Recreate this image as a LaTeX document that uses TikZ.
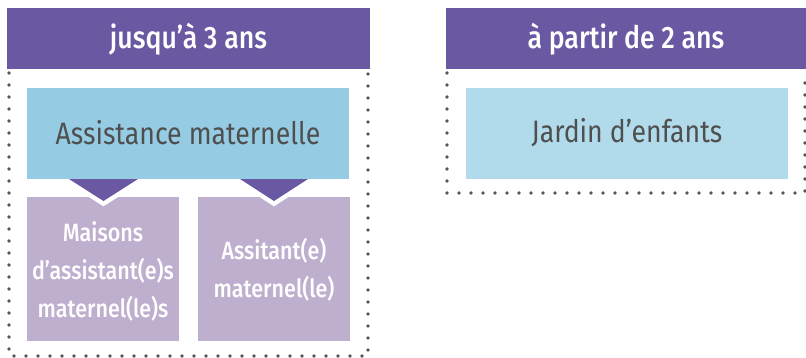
\documentclass[tikz,border=0pt]{standalone}
\usepackage{fontspec}
\setmainfont{Fira Sans}[FakeStretch=0.86]
\newfontfamily\medfont{Fira Sans Medium}[FakeStretch=0.86]
\definecolor{hdr}{HTML}{6A58A2}
\definecolor{blueA}{HTML}{95CCE3}
\definecolor{blueB}{HTML}{B1DAEA}
\definecolor{lav}{HTML}{BFAFCF}
\definecolor{txtgrey}{HTML}{4F4F4F}
\definecolor{dotgrey}{HTML}{555555}
\tikzset{
  hdrtext/.style={text=white, font=\medfont\fontsize{31}{34}\selectfont},
  bluetext/.style={text=txtgrey, font=\fontsize{31}{34}\selectfont},
  lavtext/.style={text=white, font=\medfont\fontsize{25}{38}\selectfont, align=center, inner sep=0pt},
  dotline/.style={draw=dotgrey, line width=3.6pt, line cap=round, dash pattern=on 0pt off 12pt},
  pointerback/.style={draw=white, line width=9pt, line join=miter},
  pointer/.style={fill=hdr},
}
\begin{document}
\begin{tikzpicture}[x=1pt,y=-1pt]
\useasboundingbox (0,0) rectangle (806,358);
% dotted frames
\draw[dotline] (9,73) -- (9,356) -- (368,356) -- (368,73);
\draw[dotline] (447,73) -- (447,193) -- (805,193) -- (805,73);
% headers
\fill[hdr] (7,8) rectangle (370,69);
\node[hdrtext] (h1) at (188.5,39) {jusqu’à 3 ans};
\fill[hdr] (446,8) rectangle (806,69);
\node[hdrtext] (h2) at (626,39) {à partir de 2 ans};
% lavender boxes
\fill[lav] (27,197) rectangle (179,341);
\node[lavtext] (m1) at (103,271) {Maisons\\d’assistant(e)s\\maternel(le)s};
\fill[lav] (198,197) rectangle (350,341);
\node[lavtext] (m2) at (274,270) {Assitant(e)\\maternel(le)};
% pointers
\draw[pointerback] (69,179) -- (103.5,201) -- (138,179) -- cycle;
\fill[pointer] (69,179) -- (103.5,201) -- (138,179) -- cycle;
\draw[pointerback] (240,179) -- (274,201) -- (308,179) -- cycle;
\fill[pointer] (240,179) -- (274,201) -- (308,179) -- cycle;
% blue boxes
\fill[blueA] (27,88) rectangle (349,179);
\node[bluetext] (a) at (188,133) {Assistance maternelle};
\fill[blueB] (466,88) rectangle (788,179);
\node[bluetext] (j) at (627,133) {Jardin d’enfants};
\end{tikzpicture}
\end{document}
